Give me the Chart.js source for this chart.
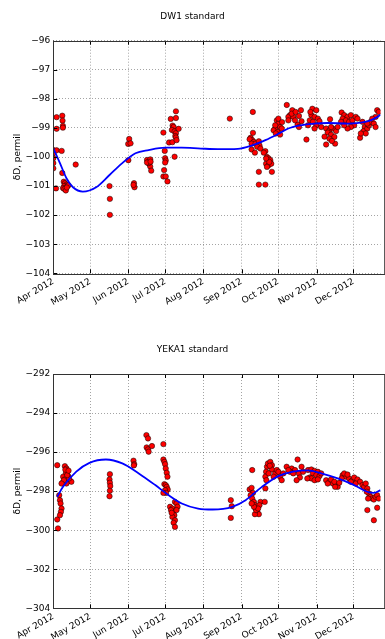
<!DOCTYPE html>
<html>
<head>
<meta charset="utf-8">
<script src="https://cdn.jsdelivr.net/npm/chart.js@4.4.1/dist/chart.umd.min.js"></script>
<style>
  html, body { margin: 0; padding: 0; background: #fff; overflow: hidden; }
  body { width: 385px; height: 639px; position: relative; }
  .box { position: absolute; left: 0; width: 385px; height: 335px; }
</style>
</head>
<body>
<div class="box" style="top:0"><canvas id="dw1Chart" width="385" height="335"></canvas></div>
<div class="box" style="top:334px"><canvas id="yekaChart" width="385" height="335"></canvas></div>
<script>
// x = days since 1 Apr 2012
const monthDays = [0, 30, 61, 91, 122, 153, 183, 214, 244];
const monthLabels = ["Apr 2012", "May 2012", "Jun 2012", "Jul 2012", "Aug 2012",
  "Sep 2012", "Oct 2012", "Nov 2012", "Dec 2012"];

// DW1 standard measurements [day, dD]
const dw1Points = [
  [0,-99.76],[0,-99.87],[0,-100.04],[0,-100.21],[0,-100.39],
  [2.7,-98.63],[2.7,-99.03],[2.7,-99.77],[2.2,-101.08],
  [7.3,-98.58],[7.5,-98.75],[7.8,-98.93],[7.8,-98.99],[6.8,-99.79],[7.3,-100.55],
  [8.5,-100.85],[9.5,-100.9],[10.8,-100.95],[8.8,-101.0],[7.9,-101.07],[9.8,-101.1],
  [11.5,-101.0],[9,-101.1],[12.3,-100.97],[10.2,-101.15],[11,-101.05],
  [18.2,-100.26],
  [45.7,-101.0],[46,-101.44],[46,-101.99],
  [61.7,-99.38],[60.9,-99.55],[62.8,-99.53],[61,-100.11],
  [65.6,-100.9],[66,-101.04],[65.2,-100.96],
  [76.2,-100.1],[77.5,-100.16],[78.8,-100.08],[78,-100.24],[78.8,-100.33],[79.6,-100.47],
  [77.5,-100.21],[76.2,-100.19],[79.1,-100.16],
  [89.5,-99.16],[90.6,-99.79],[90.9,-100.04],[91.4,-100.12],[90.9,-100.19],[90.1,-100.45],
  [89.5,-100.67],[91.4,-100.67],[92.8,-100.84],[98.6,-99.99],
  [99.7,-98.43],[95.5,-98.69],[99.7,-98.66],[97,-98.92],[97.8,-98.97],[96.4,-99.07],
  [98.6,-99.12],[99.7,-99.18],[101.9,-99.03],[99.2,-99.28],[99.7,-99.33],[94.1,-99.5],
  [96.8,-99.49],[100.2,-99.42],
  [143.5,-98.68],[162.2,-98.45],
  [162.3,-99.17],[160.4,-99.34],[161.7,-99.42],[159.6,-99.39],[163.1,-99.48],[161.2,-99.54],
  [164.4,-99.54],[167.1,-99.46],[167.6,-99.6],[165.8,-99.65],[161.2,-99.74],[163.9,-99.85],
  [168.4,-99.71],
  [172.4,-99.8],[173.7,-100],[175.1,-100.05],[176.4,-100.11],[173,-100.23],[175.1,-100.28],
  [177.2,-100.23],[173.7,-100.34],[175.6,-100.17],[177.7,-100.51],[173,-100.05],[171.1,-99.85],
  [167.1,-100.51],[167.1,-100.95],[172.4,-100.95],
  [181.7,-98.74],[183,-98.85],[180.4,-99.02],[179.1,-99.08],[182.5,-99.14],[184.4,-98.97],
  [185.7,-99.02],[180.9,-99.19],[184.4,-99.23],[180.4,-98.91],[183,-98.68],[186,-98.8],
  [189.8,-98.21],[192.4,-98.56],[194.3,-98.39],[191.1,-98.62],[195.1,-98.62],[191.1,-98.74],
  [199.7,-98.59],[201.3,-98.39],[201.8,-98.77],[198.6,-98.89],[199.7,-98.97],[196.5,-98.74],
  [193.8,-98.51],[197,-98.45],
  [205.8,-99.4],
  [210.6,-98.34],[213.8,-98.39],[209.8,-98.56],[212.4,-98.62],[215.1,-98.68],[208.5,-98.74],
  [211.1,-98.79],[216.4,-98.77],[207.1,-98.91],[213.8,-98.91],[217.8,-98.97],[212.4,-99.02],
  [209,-98.45],
  [225,-98.7],
  [221.8,-99.02],[224.5,-99.08],[227.2,-99.02],[223.1,-99.16],[225.8,-99.23],[229.9,-99.11],
  [228.5,-99.31],[224.5,-99.37],[221.8,-99.57],[229.1,-99.54],[231.2,-98.97],[225.8,-98.97],
  [226.5,-99.45],[220.5,-99.3],
  [234.4,-98.47],[236.5,-98.56],[239.2,-98.62],[241.9,-98.56],[235.2,-98.68],[237.9,-98.74],
  [240.5,-98.79],[243.2,-98.74],[245.9,-98.62],[247.3,-98.68],[233.9,-98.79],[244.6,-98.91],
  [241.9,-98.97],[239.2,-99.02],[236.5,-98.91],
  [249.4,-99.34],
  [251.3,-98.79],[253.2,-98.97],[252.1,-99.11],[255.3,-99.02],[254,-99.19],[250,-99.19],
  [256.6,-98.91],[258,-98.79],[260.6,-98.85],[262,-98.97],[263.3,-98.39],[264.6,-98.45],
  [262,-98.62],[259.3,-98.68],[255.3,-98.85]
];

// DW1 fitted curve
const dw1Fit = [
  [0,-99.7],[5.4,-100.21],[10.7,-100.73],[16,-101.04],[24,-101.19],[34.9,-101.04],
  [45.7,-100.62],[56.1,-100.21],[66.8,-99.87],[77.5,-99.76],[90.9,-99.68],[104.4,-99.68],
  [120,-99.71],[133.8,-99.73],[150,-99.72],[161.7,-99.6],[172.4,-99.42],[183,-99.2],
  [191,-99.02],[201,-98.91],[212,-98.85],[223,-98.83],[239,-98.85],[250,-98.82],
  [258,-98.74],[263.5,-98.62],[266,-98.55]
];

// YEKA1 standard measurements [day, dD]
const yekaPoints = [
  [3.2,-296.67],[3.2,-299.45],[3.8,-299.91],[4.8,-298.21],[5.4,-298.46],[5.9,-298.63],
  [6.7,-298.89],[6.2,-299.06],[5.4,-299.23],
  [9.4,-296.72],[10.7,-296.84],[11.3,-297.01],[10.2,-297.09],[8.0,-297.26],[12.1,-297.23],
  [9.4,-297.4],[7.5,-297.57],[13.4,-297.47],[14.7,-297.52],[10.7,-297.61],[8.6,-297.44],
  [12.9,-297.35],[6.7,-297.61],[11.3,-297.18],[9.8,-296.9],[12.4,-296.95],
  [46,-297.13],[45.7,-297.4],[46,-297.57],[46.3,-297.74],[46,-297.98],[45.7,-298.26],
  [65.2,-296.44],[65.8,-296.62],[65.5,-296.68],
  [75.7,-295.13],[77,-295.3],[75.9,-295.76],[77,-295.86],[77.5,-295.98],[80.2,-295.69],
  [89.5,-295.59],[89.5,-296.38],[90.3,-296.5],[90.9,-296.62],[91.4,-296.84],[92.2,-297.06],
  [92.8,-297.26],[90.3,-297.64],[91.4,-297.69],[92.2,-297.78],[93,-297.91],[90.9,-297.95],
  [91.7,-298.09],[89.5,-298.09],
  [94.9,-298.8],[96.8,-298.89],[98.9,-298.55],[100.2,-298.63],[101,-298.8],[97.6,-299.06],
  [98.4,-299.23],[96.8,-299.32],[98.9,-299.49],[97.8,-299.62],[98.9,-299.83],[95.7,-298.97],
  [100.2,-298.97],[96.2,-299.11],
  [144.3,-298.46],[145.1,-298.77],[144.3,-299.37],
  [161.7,-296.92],
  [159.6,-297.91],[161.2,-297.83],[162.3,-298.09],[160.4,-298.21],[161.7,-298.38],[163.1,-298.55],
  [163.9,-298.72],[164.4,-298.89],[165.8,-299.06],[167.1,-299.18],[163.9,-299.18],[164.9,-298.97],
  [168.4,-298.55],[171.9,-298.55],[167.6,-298.72],[166.5,-298.89],[163.1,-298.8],[161.2,-298.63],
  [172.4,-297.86],
  [173.7,-296.75],[174.5,-296.58],[176.4,-296.5],[177.7,-296.67],[173,-297.01],[172.4,-297.26],
  [173.2,-297.44],[177.7,-296.89],[175.1,-297.09],[180.4,-297.09],[181.7,-296.92],[183,-297.01],
  [184.4,-297.26],[185.7,-297.44],[179.1,-297.26],[176,-296.7],
  [198.6,-296.38],
  [189.7,-296.75],[193.8,-296.84],[192.4,-297.01],[196.5,-296.92],[199.7,-297.09],[201.8,-296.75],
  [200.5,-297.3],[197.8,-297.44],[195.1,-297.09],[191.1,-296.92],[187,-297.09],[203.1,-297.01],
  [207.1,-296.92],[209.8,-296.89],[212.4,-296.96],[215.1,-297.01],[211.1,-297.09],[213.8,-297.18],
  [208.5,-297.3],[216.4,-297.23],[217.8,-297.09],[209.8,-297.35],[212.4,-297.44],[206.5,-297.35],
  [215.1,-297.4],
  [221.8,-297.44],[224.5,-297.52],[227.2,-297.61],[229.9,-297.69],[223.1,-297.61],[225.8,-297.4],
  [228.5,-297.52],[231.2,-297.78],[232.5,-297.57],[229.1,-297.78],
  [235.2,-297.18],[237.9,-297.26],[240.5,-297.35],[243.2,-297.44],[236.5,-297.09],[239.2,-297.15],
  [244.6,-297.3],[247.3,-297.4],[241.9,-297.52],[245.9,-297.61],[234.4,-297.35],
  [249.4,-297.52],[251.3,-297.69],[252.7,-297.78],[254,-297.61],[255.3,-297.86],[256.6,-298.12],
  [258,-298.29],[259.3,-298.38],[260.6,-298.43],[254.8,-298.03],[255.9,-298.38],[262,-298.29],
  [263.3,-298.21],[264.6,-298.38],
  [255.3,-298.97],[263.3,-298.85],[260.6,-299.49]
];

// YEKA1 fitted curve
const yekaFit = [
  [3.2,-298.29],[7.9,-297.78],[18.7,-297.0],[29.4,-296.55],[42.8,-296.38],[56.1,-296.58],
  [69.5,-297.09],[82.9,-297.69],[93.6,-298.2],[104.4,-298.63],[117.7,-298.89],[129.6,-298.94],
  [145.6,-298.8],[156.3,-298.46],[169.6,-297.78],[183,-297.23],[195,-297.0],[207,-296.94],
  [217.8,-297.09],[231.2,-297.35],[244.6,-297.69],[255.2,-298.03],[260.6,-298.09],[266,-297.95]
];

const FONT = { family: "DejaVu Sans", size: 9 };

// matplotlib-like frame with inward ticks
const framePlugin = {
  id: "frame",
  afterDatasetsDraw(chart) {
    const { ctx, chartArea: a, scales } = chart;
    ctx.save();
    ctx.strokeStyle = "#000";
    ctx.lineWidth = 1;
    ctx.setLineDash([]);
    ctx.beginPath();
    scales.x.ticks.forEach(t => {
      const px = Math.round(scales.x.getPixelForValue(t.value)) + 0.5;
      ctx.moveTo(px, a.bottom); ctx.lineTo(px, a.bottom - 4);
      ctx.moveTo(px, a.top); ctx.lineTo(px, a.top + 4);
    });
    scales.y.ticks.forEach(t => {
      const py = Math.round(scales.y.getPixelForValue(t.value)) + 0.5;
      ctx.moveTo(a.left, py); ctx.lineTo(a.left + 4, py);
    });
    ctx.stroke();
    ctx.strokeStyle = "#333";
    ctx.strokeRect(Math.round(a.left) + 0.5, Math.round(a.top) + 0.5,
      a.right - a.left + 4, Math.round(a.bottom - a.top));
    ctx.restore();
  }
};

function toXY(pairs) {
  return pairs.map(p => ({ x: p[0], y: p[1] }));
}

function makeChart(id, title, points, fit, yMin, yMax, yStep, pad) {
  const ctx = document.getElementById(id).getContext("2d");
  return new Chart(ctx, {
    type: "scatter",
    data: {
      datasets: [
        {
          data: toXY(fit),
          showLine: true,
          pointRadius: 0,
          borderColor: "#0000ff",
          borderWidth: 1.8,
          cubicInterpolationMode: "monotone",
          clip: 0
        },
        {
          data: toXY(points),
          pointRadius: 2.7,
          pointBackgroundColor: "#ff0000",
          pointBorderColor: "#000",
          pointBorderWidth: 0.5,
          clip: 0
        }
      ]
    },
    options: {
      responsive: false,
      animation: false,
      layout: { padding: 0 },
      plugins: {
        legend: { display: false },
        tooltip: { enabled: false },
        title: {
          display: true,
          text: title,
          color: "#000",
          font: { family: FONT.family, size: 9, weight: "normal" },
          padding: { top: pad.titleTop, bottom: pad.titleBottom }
        }
      },
      scales: {
        x: {
          type: "linear",
          min: 0,
          max: 266,
          afterBuildTicks: s => { s.ticks = monthDays.map(v => ({ value: v })); },
          afterFit: s => { s.height = pad.xHeight; },
          ticks: {
            autoSkip: false,
            minRotation: 30,
            maxRotation: 30,
            padding: 3,
            color: "#000",
            font: FONT,
            callback: v => monthLabels[monthDays.indexOf(v)]
          },
          grid: { color: "rgba(0,0,0,0.45)", lineWidth: 0.8, drawTicks: false },
          border: { display: false, dash: [1, 2] }
        },
        y: {
          min: yMin,
          max: yMax,
          afterFit: s => { s.width = 53.3; },
          ticks: {
            stepSize: yStep,
            padding: 3,
            color: "#000",
            font: FONT,
            callback: v => String(v).replace("-", "\u2212")
          },
          title: {
            display: true,
            text: "\u03b4D, permil",
            color: "#000",
            font: FONT,
            padding: { top: 12, bottom: 0 }
          },
          grid: { color: "rgba(0,0,0,0.45)", lineWidth: 0.8, drawTicks: false },
          border: { display: false, dash: [1, 2] }
        }
      }
    },
    plugins: [framePlugin]
  });
}

makeChart("dw1Chart", "DW1 standard", dw1Points, dw1Fit, -104, -96, 1,
  { titleTop: 11.6, titleBottom: 18.3, xHeight: 61.7 });
makeChart("yekaChart", "YEKA1 standard", yekaPoints, yekaFit, -304, -292, 2,
  { titleTop: 10.6, titleBottom: 18.6, xHeight: 60.7 });
</script>
</body>
</html>
